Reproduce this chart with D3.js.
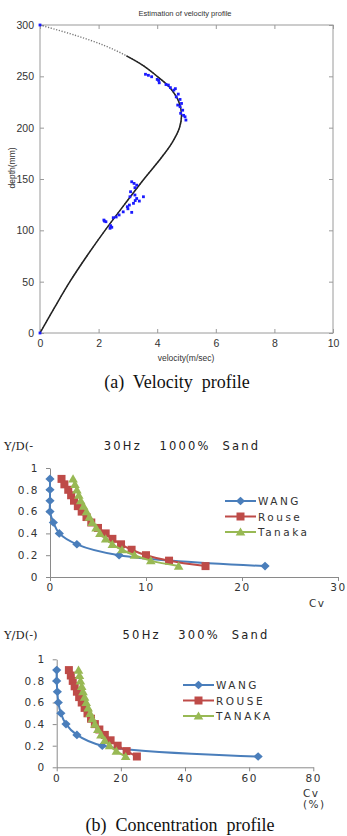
<!DOCTYPE html>
<html>
<head>
<meta charset="utf-8">
<script src="https://cdn.jsdelivr.net/npm/d3@7"></script>
<style>
  body { margin: 0; background: #fff; }
  svg { display: block; }
</style>
</head>
<body>
<script>
// ---- (a) velocity profile ----
const fitDepth    = [0, 25, 50, 75, 100, 125, 150, 170, 185, 200, 212, 225, 240, 250, 260, 270, 280, 290, 300];
const fitVelocity = [0, 0.5, 1.02, 1.6, 2.22, 2.88, 3.55, 4.12, 4.5, 4.76, 4.83, 4.74, 4.4, 4.0, 3.55, 2.95, 2.2, 1.2, 0];

const measVelocity = [0, 0,
  3.60, 3.70, 3.81, 4.00, 4.07, 4.05, 4.30, 4.38, 4.45, 4.57, 4.62, 4.72, 4.65, 4.78, 4.83, 4.70, 4.78, 4.87, 4.80, 4.95, 4.98, 4.90,
  2.18, 2.25, 2.20, 2.39, 2.41, 2.45, 2.50, 2.60, 2.84, 2.98, 3.05, 3.13, 3.19, 3.07, 3.09, 3.13, 3.21, 3.30, 3.24, 3.24, 3.30, 3.39, 3.53, 3.00, 3.25, 2.70];
const measDepth = [0, 300,
  252, 251, 249.6, 247, 243.7, 246, 242, 241.5, 239, 236.6, 238, 232.7, 230, 227.5, 223.6, 222, 220.4, 217, 214, 210.6, 207.4, 212,
  110, 108.4, 109, 102, 104.5, 103, 112.3, 113, 118, 123, 124.6, 117.5, 126.3, 132.7, 137.6, 147.3, 145.7, 144, 141.5, 134.4, 131, 128.5, 132.7, 121, 129, 115];

const velTicksX = [0, 2, 4, 6, 8, 10];
const velTicksY = [0, 50, 100, 150, 200, 250, 300];

// ---- (b) concentration profile ----
const ydCoarse = [0.9, 0.8, 0.7, 0.6, 0.5, 0.4, 0.3, 0.2, 0.1];
const ydFine = [0.9, 0.85, 0.8, 0.75, 0.7, 0.65, 0.6, 0.55, 0.5, 0.45, 0.4, 0.35, 0.3, 0.25, 0.2, 0.15, 0.1];

const wang30   = [0, 0, 0, 0, 0.35, 0.97, 2.8, 7.2, 22.4];
const rouse30  = [1.2, 1.5, 1.9, 2.2, 2.5, 2.9, 3.3, 3.8, 4.3, 5.0, 5.8, 6.5, 7.4, 8.5, 10.0, 12.4, 16.2];
const tanaka30 = [2.4, 2.6, 2.8, 3.0, 3.2, 3.5, 3.8, 4.1, 4.4, 4.8, 5.2, 5.8, 6.5, 7.5, 8.8, 10.5, 13.4];

const wang50   = [0, 0, 0.2, 0.5, 1.3, 2.9, 6.3, 14.2, 62.8];
const rouse50  = [3.8, 4.4, 5.0, 5.6, 6.3, 7.0, 7.8, 8.7, 9.6, 10.7, 11.9, 13.3, 15.0, 16.8, 19.0, 21.8, 25.0];
const tanaka50 = [6.8, 7.1, 7.4, 7.8, 8.2, 8.7, 9.2, 9.8, 10.4, 11.1, 11.9, 12.8, 13.8, 15.0, 16.5, 18.6, 21.5];

const cvTicks30 = [0, 10, 20, 30];
const cvTicks50 = [0, 20, 40, 60, 80];
const ydTicks = [0, 0.2, 0.4, 0.6, 0.8, 1];

const names30 = ["WANG", "Rouse", "Tanaka"];
const names50 = ["WANG", "ROUSE", "TANAKA"];
const colors = ["#4a7ebb", "#be4b48", "#98b954"];

const width = 347, height = 836;
const svg = d3.select("body").append("svg")
  .attr("width", width)
  .attr("height", height)
  .attr("viewBox", [0, 0, width, height]);

// ============ velocity chart ============
{
  const x = d3.scaleLinear().domain([0, 10]).range([40, 333]);
  const y = d3.scaleLinear().domain([0, 300]).range([333, 25]);
  const g = svg.append("g");
  const tickFont = "10.5px 'Liberation Sans', Arial, sans-serif";

  g.append("rect")
    .attr("x", x(0)).attr("y", y(300))
    .attr("width", x(10) - x(0)).attr("height", y(0) - y(300))
    .attr("fill", "none").attr("stroke", "#9a9a9a").attr("stroke-width", 1);

  // inward ticks on all sides, matlab style
  const axes = [
    [d3.axisBottom(x).tickValues(velTicksX).tickSize(-4).tickPadding(7), `translate(0,${y(0)})`],
    [d3.axisTop(x).tickValues(velTicksX).tickSize(-4).tickFormat(""), `translate(0,${y(300)})`],
    [d3.axisLeft(y).tickValues(velTicksY).tickSize(-4).tickPadding(6), `translate(${x(0)},0)`],
    [d3.axisRight(y).tickValues(velTicksY).tickSize(-4).tickFormat(""), `translate(${x(10)},0)`]
  ];
  axes.forEach(([ax, tr]) => {
    const a = g.append("g").attr("transform", tr).call(ax);
    a.select(".domain").remove();
    a.selectAll(".tick line").attr("stroke", "#9a9a9a");
    a.selectAll(".tick text").attr("fill", "#333").style("font", tickFont);
  });

  const pts = fitVelocity.map((v, i) => [v, fitDepth[i]]);
  const line = d3.line().x(d => x(d[0])).y(d => y(d[1])).curve(d3.curveCatmullRom);
  const fullPath = line(pts);

  // the whole fit dotted, then solid over everything but the top end
  g.append("path")
    .attr("d", fullPath)
    .attr("fill", "none").attr("stroke", "#777")
    .attr("stroke-width", 1.4).attr("stroke-dasharray", "1.2,1.6");
  const solid = g.append("path")
    .attr("d", fullPath)
    .attr("fill", "none").attr("stroke", "#222").attr("stroke-width", 1.5);
  const len = solid.node().getTotalLength();
  let cut = len;
  for (let s = len; s > 0; s -= 1) {
    const p = solid.node().getPointAtLength(s);
    if (y.invert(p.y) < 270) { cut = s; break; }
  }
  solid.attr("stroke-dasharray", `${cut},${len}`);

  g.append("g").selectAll("rect")
    .data(measVelocity.map((v, i) => [v, measDepth[i]]))
    .join("rect")
    .attr("x", d => x(d[0]) - 1.4).attr("y", d => y(d[1]) - 1.4)
    .attr("width", 2.8).attr("height", 2.8)
    .attr("fill", "#1a1aff");

  g.append("text").attr("x", 185).attr("y", 16).attr("text-anchor", "middle")
    .style("font", "7.5px 'Liberation Sans', Arial, sans-serif").attr("fill", "#333")
    .text("Estimation of velocity profile");
  g.append("text").attr("x", 186).attr("y", 361).attr("text-anchor", "middle")
    .style("font", "8.5px 'Liberation Sans', Arial, sans-serif").attr("fill", "#333")
    .text("velocity(m/sec)");
  g.append("text").attr("transform", "translate(15,168) rotate(-90)").attr("text-anchor", "middle")
    .style("font", "8.5px 'Liberation Sans', Arial, sans-serif").attr("fill", "#333")
    .text("depth(mm)");

  svg.append("text").attr("x", 177).attr("y", 388).attr("text-anchor", "middle")
    .style("font", "18px 'Liberation Serif', 'Times New Roman', serif").attr("fill", "#111")
    .attr("xml:space", "preserve").style("white-space", "pre")
    .text("(a)  Velocity  profile");
}

// ============ concentration charts ============
function markerPath(type) {
  if (type === 0) return "M0,-4.3L4.6,0L0,4.3L-4.6,0Z";
  if (type === 1) return "M-4,-4H4V4H-4Z";
  return "M0,-4.6L4.8,3.6H-4.8Z";
}

function concChart(opt) {
  const { xMax, xTicks, xr, yr, wang, rouse, tanaka, names, legendX, legendY, title, titleY, cvLines } = opt;
  const x = d3.scaleLinear().domain([0, xMax]).range(xr);
  const y = d3.scaleLinear().domain([0, 1]).range(yr);
  const g = svg.append("g");
  const font = "10.5px 'DejaVu Sans', Verdana, sans-serif";

  const xa = g.append("g").attr("transform", `translate(0,${y(0)})`)
    .call(d3.axisBottom(x).tickValues(xTicks).tickSize(4).tickSizeOuter(0).tickPadding(3));
  const ya = g.append("g").attr("transform", `translate(${x(0)},0)`)
    .call(d3.axisLeft(y).tickValues(ydTicks).tickSize(4).tickSizeOuter(0).tickPadding(7)
      .tickFormat(d => d === 0 || d === 1 ? d3.format("d")(d) : d3.format(".1f")(d)));
  [xa, ya].forEach(a => {
    a.select(".domain").attr("stroke", "#8a8a8a");
    a.selectAll(".tick line").attr("stroke", "#8a8a8a");
    a.selectAll(".tick text").attr("fill", "#333").style("font", font).style("letter-spacing", "1.5px");
  });

  const series = [
    { xs: wang, ys: ydCoarse },
    { xs: rouse, ys: ydFine },
    { xs: tanaka, ys: ydFine }
  ];
  const line = d3.line().x(d => x(d[0])).y(d => y(d[1])).curve(d3.curveCatmullRom);
  series.forEach((s, k) => {
    const pts = s.xs.map((v, i) => [v, s.ys[i]]);
    g.append("path").attr("d", line(pts))
      .attr("fill", "none").attr("stroke", colors[k]).attr("stroke-width", 2);
    g.append("g").selectAll("path")
      .data(pts).join("path")
      .attr("transform", d => `translate(${x(d[0])},${y(d[1])})`)
      .attr("d", markerPath(k))
      .attr("fill", colors[k]);
  });

  // legend
  names.forEach((n, k) => {
    const ly = legendY + k * 15.5;
    g.append("line").attr("x1", legendX).attr("x2", legendX + 31)
      .attr("y1", ly).attr("y2", ly).attr("stroke", colors[k]).attr("stroke-width", 2);
    g.append("path").attr("transform", `translate(${legendX + 15.5},${ly})`)
      .attr("d", markerPath(k)).attr("fill", colors[k]);
    g.append("text").attr("x", legendX + 33).attr("y", ly + 4)
      .style("font", font).style("letter-spacing", "2.5px").attr("fill", "#333")
      .text(n);
  });

  g.append("text").attr("x", 4).attr("y", titleY)
    .style("font", "11.5px 'DejaVu Serif', serif").attr("fill", "#222")
    .text(opt.yLabel);
  g.append("text").attr("x", opt.titleX).attr("y", titleY).attr("text-anchor", "middle")
    .style("font", "11.5px 'DejaVu Sans', Verdana, sans-serif").style("letter-spacing", "2.2px")
    .attr("xml:space", "preserve").style("white-space", "pre").attr("fill", "#222")
    .text(title);
  cvLines.forEach((t, i) => {
    g.append("text").attr("x", opt.cvX).attr("y", opt.cvY + i * 11)
      .style("font", font).style("letter-spacing", "1.5px").attr("fill", "#333")
      .text(t);
  });
}

concChart({
  xMax: 30, xTicks: cvTicks30, xr: [50, 338], yr: [577, 468],
  wang: wang30, rouse: rouse30, tanaka: tanaka30, names: names30,
  legendX: 225, legendY: 501,
  yLabel: "Y/D(-", title: "30Hz   1000%  Sand", titleX: 182, titleY: 450,
  cvLines: ["Cv"], cvX: 309, cvY: 607
});

concChart({
  xMax: 80, xTicks: cvTicks50, xr: [56.7, 313.3], yr: [767.3, 659.3],
  wang: wang50, rouse: rouse50, tanaka: tanaka50, names: names50,
  legendX: 183, legendY: 685,
  yLabel: "Y/D(-)", title: "50Hz   300%  Sand", titleX: 196, titleY: 639,
  cvLines: ["Cv", "(%)"], cvX: 303, cvY: 797
});

svg.append("text").attr("x", 180).attr("y", 831).attr("text-anchor", "middle")
  .style("font", "18px 'Liberation Serif', 'Times New Roman', serif").attr("fill", "#111")
  .attr("xml:space", "preserve").style("white-space", "pre")
  .text("(b)  Concentration  profile");
</script>
</body>
</html>
